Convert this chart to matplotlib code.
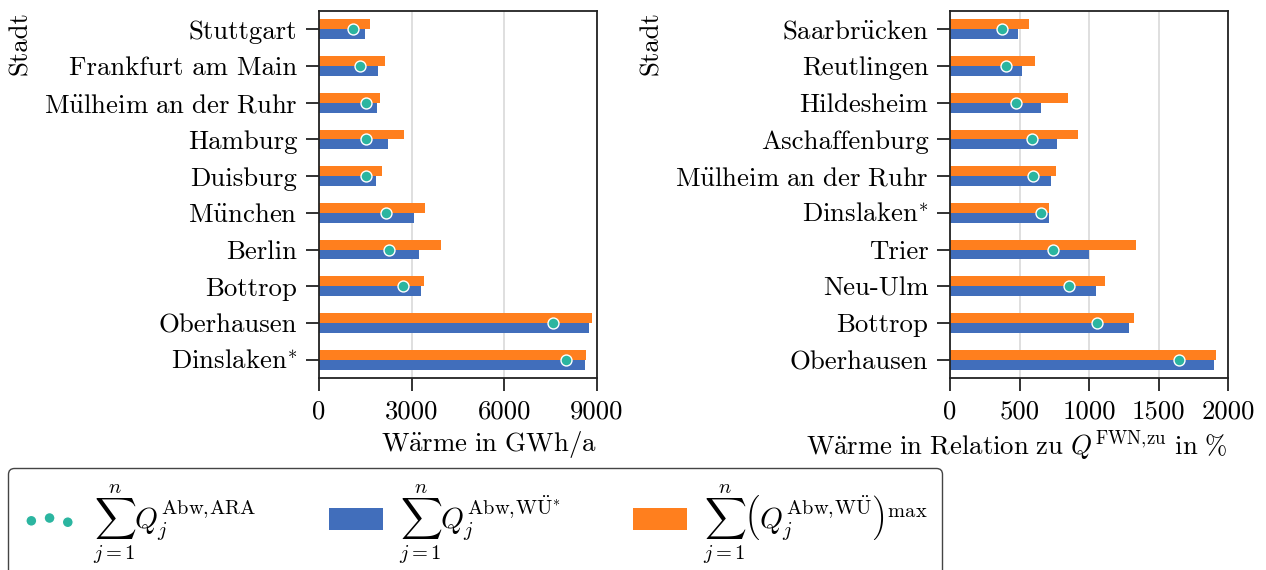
import numpy as np
import matplotlib.pyplot as plt

plt.rcParams['mathtext.fontset'] = 'cm'
plt.rcParams['font.family'] = ['cmr10', 'DejaVu Serif']
plt.rcParams['axes.unicode_minus'] = False

# linke Grafik: absolute Waerme in GWh/a
staedte_abs = ['Stuttgart', 'Frankfurt am Main', 'Mülheim an der Ruhr', 'Hamburg',
               'Duisburg', 'München', 'Berlin', 'Bottrop', 'Oberhausen', 'Dinslaken*']
ara_abs = [1110, 1340, 1530, 1530, 1530, 2180, 2250, 2710, 7590, 8010]
wue_abs = [1490, 1910, 1880, 2240, 1850, 3080, 3240, 3300, 8750, 8620]
wue_max_abs = [1650, 2140, 1980, 2750, 2040, 3430, 3950, 3400, 8850, 8650]

# rechte Grafik: Waerme in Relation zu Q^FWN,zu in %
staedte_rel = ['Saarbrücken', 'Reutlingen', 'Hildesheim', 'Aschaffenburg',
               'Mülheim an der Ruhr', 'Dinslaken*', 'Trier', 'Neu-Ulm', 'Bottrop', 'Oberhausen']
ara_rel = [375, 406, 478, 588, 595, 658, 740, 855, 1061, 1645]
wue_rel = [490, 519, 656, 771, 728, 713, 1001, 1052, 1289, 1902]
wue_max_rel = [569, 612, 850, 922, 764, 713, 1340, 1117, 1325, 1916]

BLAU = '#416ebb'
ORANGE = '#ff7f1e'
TUERKIS = '#2bb5a0'
FS = 19.3


def tex(s):
    # Umlaute und Sternchen ueber mathtext, sonst normaler Text
    if 'ü' not in s and 'ä' not in s and not s.endswith('*'):
        return s
    stern = s.endswith('*')
    s = s.rstrip('*')
    s = s.replace(' ', r'\ ').replace('ü', r'\"u').replace('ä', r'\"a')
    return r'$\mathrm{' + s + '}' + ('^{*}' if stern else '') + '$'


def balken(ax, staedte, ara, wue, wue_max, xmax, ticks):
    y = np.arange(len(staedte))
    h = 0.27
    b1 = ax.barh(y + h / 2, wue, height=h, color=BLAU, zorder=2)
    b2 = ax.barh(y - h / 2, wue_max, height=h, color=ORANGE, zorder=2)
    sc = ax.scatter(ara, y, s=62, color=TUERKIS, edgecolor='white', linewidth=1.0, zorder=3)
    ax.set_yticks(y)
    ax.set_yticklabels([tex(s) for s in staedte], fontsize=FS)
    ax.set_ylim(len(staedte) - 0.5, -0.5)
    ax.set_xlim(0, xmax)
    ax.set_xticks(ticks)
    ax.set_xticklabels([str(t) for t in ticks], fontsize=FS)
    ax.grid(axis='x', color='#d9d9d9', linewidth=1.2, zorder=0)
    ax.set_axisbelow(True)
    for sp in ax.spines.values():
        sp.set_linewidth(1.3)
        sp.set_color('#222222')
    ax.tick_params(axis='both', length=9.5, width=1.3, color='#222222', pad=6)
    ax.set_ylabel('Stadt', fontsize=FS)
    ax.yaxis.set_label_coords(-1.033, 1.0)
    ax.yaxis.label.set_horizontalalignment('right')
    return sc, b1, b2


fig = plt.figure(figsize=(12.66, 5.70), dpi=100)
ax1 = fig.add_axes([319 / 1266, 192 / 570, 278 / 1266, 367 / 570])
ax2 = fig.add_axes([950 / 1266, 192 / 570, 278 / 1266, 367 / 570])

handles = balken(ax1, staedte_abs, ara_abs, wue_abs, wue_max_abs, 9000, [0, 3000, 6000, 9000])
balken(ax2, staedte_rel, ara_rel, wue_rel, wue_max_rel, 2000, [0, 500, 1000, 1500, 2000])

ax1.set_xlabel(r'$\mathrm{W\"arme\ in\ GWh/a}$', fontsize=FS, loc='right')
ax2.set_xlabel(r'$\mathrm{W\"arme\ in\ Relation\ zu\ }Q^{\mathrm{FWN,\!zu}}\mathrm{\ in\ \%}$',
               fontsize=FS, loc='right')

labels = [r'$\sum_{j=1}^{n} Q_j^{\mathrm{Abw,\!ARA}}$',
          r'$\sum_{j=1}^{n} Q_j^{\mathrm{Abw,\!W\ddot{U}}^{*}}$',
          r'$\sum_{j=1}^{n} \left(Q_j^{\mathrm{Abw,\!W\ddot{U}}}\right)^{\mathrm{max}}$']
fig.legend(handles, labels,
           loc='upper left', bbox_to_anchor=(8 / 1266, 1 - 468 / 570), ncol=3,
           fontsize=21, frameon=True, fancybox=True, edgecolor='#444444',
           framealpha=1, handlelength=1.85, handleheight=0.8, columnspacing=2.5,
           handletextpad=0.55, scatterpoints=3, borderpad=0.5, borderaxespad=0)

fig.savefig('out.png', dpi=100)
